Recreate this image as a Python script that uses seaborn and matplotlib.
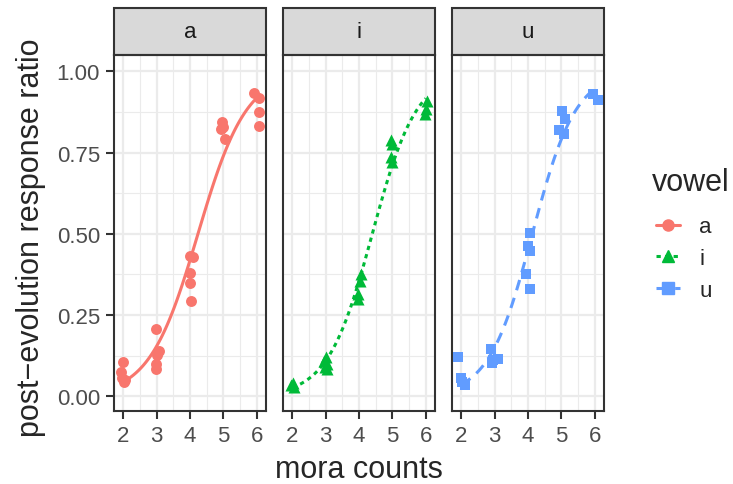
import numpy as np
import pandas as pd
import seaborn as sns
import matplotlib.pyplot as plt
from matplotlib.patches import Rectangle
from matplotlib.lines import Line2D

# points (x has the small jitter that is visible)

a_x = [2.00, 1.93, 1.97, 2.05, 2.02, 2.98, 3.08, 3.02, 2.98, 2.98, 4.00, 4.10, 4.00, 4.00, 4.03, 4.95, 4.98, 4.92, 5.05, 5.92, 6.08, 6.08, 6.06]
a_y = [0.105, 0.074, 0.057, 0.049, 0.045, 0.208, 0.141, 0.126, 0.100, 0.085, 0.433, 0.428, 0.379, 0.348, 0.294, 0.845, 0.828, 0.823, 0.792, 0.933, 0.917, 0.874, 0.833]

i_x = [1.95, 2.02, 2.05, 3.00, 2.95, 3.05, 3.05, 2.98, 4.05, 4.02, 3.97, 3.98, 4.97, 5.00, 4.97, 4.98, 6.03, 6.00, 5.98]
i_y = [0.035, 0.040, 0.030, 0.120, 0.110, 0.100, 0.085, 0.090, 0.375, 0.355, 0.315, 0.300, 0.790, 0.775, 0.735, 0.720, 0.910, 0.885, 0.870]

u_x = [1.90, 2.00, 2.10, 2.03, 2.90, 2.95, 3.10, 2.93, 4.05, 4.00, 4.05, 3.95, 4.05, 5.03, 5.10, 4.93, 5.07, 5.95, 6.10]
u_y = [0.120, 0.057, 0.036, 0.045, 0.147, 0.113, 0.116, 0.103, 0.503, 0.464, 0.448, 0.376, 0.330, 0.878, 0.852, 0.819, 0.806, 0.931, 0.912]

vowels = ['a', 'i', 'u']
colors = ['#F8766D', '#00BA38', '#619CFF']
markers = ['o', '^', 's']
marker_sizes = [62, 75, 55]
line_styles = ['-', (0, (1.4, 1.4)), (0, (3.5, 2.6))]

df = pd.concat([
    pd.DataFrame({'mora': a_x, 'ratio': a_y, 'vowel': 'a'}),
    pd.DataFrame({'mora': i_x, 'ratio': i_y, 'vowel': 'i'}),
    pd.DataFrame({'mora': u_x, 'ratio': u_y, 'vowel': 'u'}),
])


# logistic curve like a binomial glm smooth
def logistic_fit(x, y):
    X = np.column_stack([np.ones_like(x), x])
    b = np.zeros(2)
    for _ in range(50):
        mu = 1 / (1 + np.exp(-X @ b))
        w = mu * (1 - mu)
        z = X @ b + (y - mu) / w
        b = np.linalg.solve(X.T @ (w[:, None] * X), X.T @ (w * z))
    return b


sns.set_style('white')
plt.rcParams['font.family'] = ['Liberation Sans', 'DejaVu Sans']

fig = plt.figure(figsize=(7.33, 4.85), dpi=100)
axes = fig.subplots(1, 3, sharey=True)
fig.subplots_adjust(left=114/733, right=604/733, bottom=1-411.7/485, top=1-56/485, wspace=17/152)

for k, ax in enumerate(axes):
    v = vowels[k]
    sub = df[df['vowel'] == v]
    b = logistic_fit(np.round(sub['mora'].values), sub['ratio'].values)
    grid = np.linspace(2, 6, 80)
    fit = 1 / (1 + np.exp(-(b[0] + b[1] * grid)))

    sns.scatterplot(x=sub['mora'], y=sub['ratio'], marker=markers[k], s=marker_sizes[k],
                    color=colors[k], linewidth=0, ax=ax, zorder=3)
    sns.lineplot(x=grid, y=fit, color=colors[k], linewidth=2.2, linestyle=line_styles[k], ax=ax, zorder=4)

    ax.set_xlim(1.72, 6.28)
    ax.set_ylim(-0.044, 1.05)
    ax.set_xticks([2, 3, 4, 5, 6])
    ax.set_xticks([2.5, 3.5, 4.5, 5.5], minor=True)
    ax.set_yticks([0, 0.25, 0.5, 0.75, 1.0])
    ax.set_yticks([0.125, 0.375, 0.625, 0.875], minor=True)
    ax.set_yticklabels(['0.00', '0.25', '0.50', '0.75', '1.00'])
    ax.grid(which='major', color='#EBEBEB', linewidth=1.6)
    ax.grid(which='minor', color='#EBEBEB', linewidth=0.8)
    ax.set_axisbelow(True)
    ax.set_xlabel('')
    ax.set_ylabel('')
    for s in ax.spines.values():
        s.set_visible(True)
        s.set_color('#333333')
        s.set_linewidth(1.5)
    ax.tick_params(which='major', length=5.5, width=1.5, color='#333333', labelsize=16,
                   labelcolor='#4D4D4D', pad=4.5, bottom=True, left=(k == 0))
    ax.tick_params(which='minor', length=0)

    # facet strip
    strip_h = 47 / 355.7
    ax.add_patch(Rectangle((0, 1), 1, strip_h, transform=ax.transAxes, clip_on=False,
                           facecolor='#D9D9D9', edgecolor='#333333', linewidth=1.5))
    ax.text(0.5, 1 + strip_h / 2, v, transform=ax.transAxes, ha='center', va='center',
            fontsize=16, color='#1A1A1A')

fig.text(359/733, 1 - 470/485, 'mora counts', ha='center', va='center', fontsize=22)
fig.text(31/733, 1 - 238/485, 'post\u2212evolution response ratio', ha='center', va='center',
         rotation=90, fontsize=22)

# legend (title as its own text so the gap matches)
fig.text(652/733, 1 - 183/485, 'vowel', ha='left', va='center', fontsize=22)
handles = [Line2D([], [], color=colors[k], marker=markers[k], markersize=8, linewidth=2.2,
                  linestyle=line_styles[k]) for k in range(3)]
fig.legend(handles, vowels, loc='center left', bbox_to_anchor=(636/733, 1 - 259.5/485),
           frameon=False, fontsize=16, handlelength=1.1, handletextpad=0.85,
           labelspacing=0.48)

plt.savefig('out.png', dpi=100)
